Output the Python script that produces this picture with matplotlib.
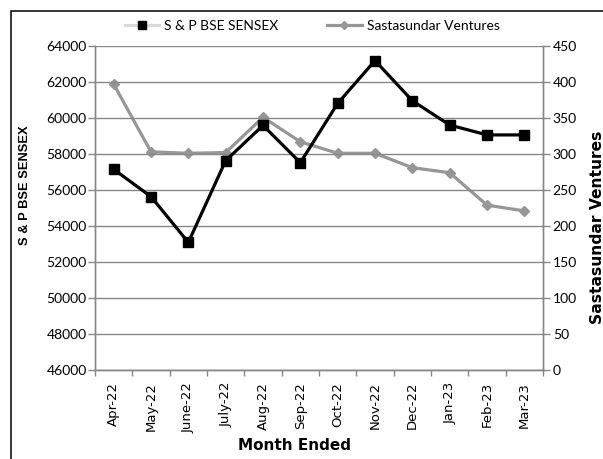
import matplotlib
matplotlib.use("Agg")
import matplotlib.pyplot as plt
from matplotlib.lines import Line2D
from matplotlib.patches import Rectangle
import numpy as np

months = ["Apr-22", "May-22", "June-22", "July-22", "Aug-22", "Sep-22",
          "Oct-22", "Nov-22", "Dec-22", "Jan-23", "Feb-23", "Mar-23"]
sensex = [57150, 55630, 53090, 57630, 59590, 57520,
          60810, 63190, 60960, 59610, 59060, 59060]
sastasundar = [397, 303, 301, 302, 351, 317,
               301, 301, 281, 274, 229, 221]
left_ticks = [46000, 48000, 50000, 52000, 54000, 56000, 58000, 60000, 62000, 64000]
right_ticks = [0, 50, 100, 150, 200, 250, 300, 350, 400, 450]

W, H = 603, 459
fig = plt.figure(figsize=(W / 100, H / 100), dpi=100)
fig.patch.set_facecolor("white")

def fx(px):
    return px / W

def fy(py):
    return 1 - py / H

ax = fig.add_axes([fx(95), fy(370), fx(543) - fx(95), fy(46) - fy(370)])
ax2 = ax.twinx()

grid_c = "#878787"
gray_line = "#969696"

x = np.arange(len(months))
ax.plot(x, sensex, color="black", lw=2.3, marker="s", markersize=7,
        markerfacecolor="black", markeredgecolor="black", zorder=5)
ax2.plot(x, sastasundar, color=gray_line, lw=2.3, marker="D", markersize=5.5,
         markerfacecolor=gray_line, markeredgecolor=gray_line, zorder=4)
ax.set_zorder(ax2.get_zorder() + 1)
ax.patch.set_visible(False)

ax.set_xlim(-0.5, len(months) - 0.5)
ax.set_ylim(46000, 64000)
ax2.set_ylim(0, 450)

ax.set_yticks(left_ticks)
ax.set_yticklabels([str(v) for v in left_ticks], family="Lato", fontsize=10)
ax2.set_yticks(right_ticks)
ax2.set_yticklabels([str(v) for v in right_ticks], family="Lato", fontsize=10)

ax.set_xticks(np.arange(-0.5, len(months), 1.0))
ax.set_xticklabels([])
ax.set_xticks(x, minor=True)
ax.set_xticklabels(months, minor=True, rotation=90, family="DejaVu Sans", fontsize=9.5)
ax.tick_params(axis="x", which="major", direction="out", length=4, width=1, color=grid_c)
ax.tick_params(axis="x", which="minor", length=0, pad=8.5)
ax.tick_params(axis="y", direction="out", length=5, width=1, color=grid_c, pad=1)
ax2.tick_params(axis="y", direction="out", length=5, width=1, color=grid_c, pad=2)

ax.grid(axis="y", color=grid_c, lw=1.0)
ax.set_axisbelow(True)
for a in (ax, ax2):
    a.spines["top"].set_visible(False)
    for s in ("left", "right", "bottom"):
        a.spines[s].set_color(grid_c)
        a.spines[s].set_linewidth(1.0)

fig.text(fx(295), fy(446), "Month Ended", ha="center", va="center",
         family="DejaVu Sans", fontweight="bold", fontsize=11)
fig.text(fx(25), fy(185), "S & P BSE SENSEX", ha="center", va="center",
         rotation=90, family="Liberation Sans", fontweight="bold", fontsize=9.3)
fig.text(fx(597), fy(227), "Sastasundar Ventures", ha="center", va="center",
         rotation=90, family="DejaVu Sans", fontweight="bold", fontsize=11.2)

h1 = Line2D([], [], color="#d9d9d9", lw=2.3, marker="s", markersize=5.5,
            markerfacecolor="black", markeredgecolor="black")
h2 = Line2D([], [], color=gray_line, lw=2.3, marker="D", markersize=4.5,
            markerfacecolor=gray_line, markeredgecolor=gray_line)
fig.legend([h1, h2], ["S & P BSE SENSEX", "Sastasundar Ventures"],
           loc="center", bbox_to_anchor=(fx(312), fy(26)), ncol=2, frameon=False,
           prop={"family": "Lato", "size": 10}, handlelength=2.5,
           handletextpad=0.35, columnspacing=3.5, borderaxespad=0, borderpad=0)

fig.add_artist(Rectangle((fx(11), -0.1), 1.2, fy(11) + 0.1,
                         transform=fig.transFigure, fill=False,
                         edgecolor="black", lw=1.1))

fig.savefig("out.png", dpi=100)
